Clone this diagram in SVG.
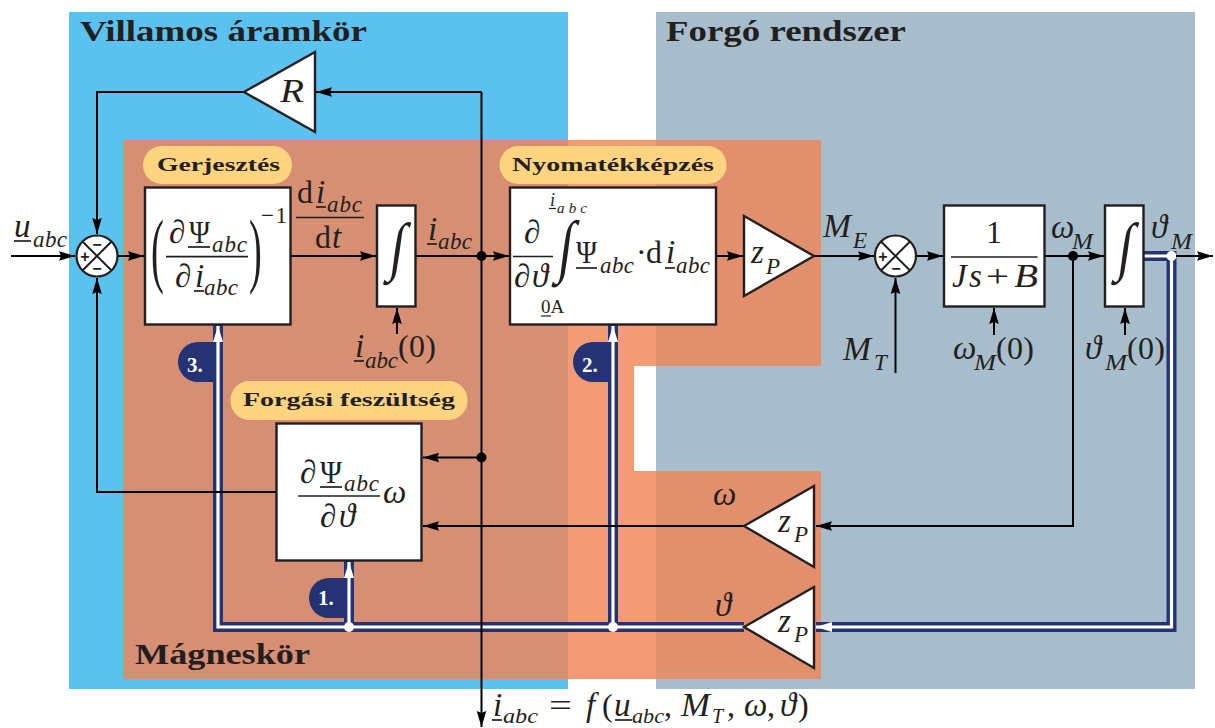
<svg xmlns="http://www.w3.org/2000/svg" width="1215" height="728" viewBox="0 0 1215 728">
<style>
text{font-family:"Liberation Serif","DejaVu Serif",serif;fill:#231f20}
.h{font-weight:bold;font-size:29px}
.p{font-weight:bold;font-size:19px}
.m{font-style:italic;font-size:33px}
.r{font-size:32px}
.s{font-style:italic;font-size:23px}
.t{font-style:italic;font-size:18px}
.in{font-size:52px}
.box{fill:#fff;stroke:#231f20;stroke-width:2.4}
.bar{stroke:#231f20;stroke-width:1.7;fill:none}
.ln{stroke:#000;stroke-width:2;fill:none}
.arr{marker-end:url(#a)}
.nv{stroke:#253375;stroke-width:10;fill:none}
.wh{stroke:#fff;stroke-width:3.2;fill:none}
.pill{fill:#ffd480}
.bd{fill:#253375}
.bt{fill:#fff;font-weight:bold;font-size:21px}
.sg{font-family:"Liberation Sans",sans-serif;font-weight:bold;font-size:16px;text-anchor:middle;fill:#231f20}
</style>
<defs>
<marker id="a" markerUnits="userSpaceOnUse" markerWidth="17" markerHeight="12" refX="16" refY="6" orient="auto"><path d="M0,1.2 L16,6 L0,10.8 L2,6 z" fill="#000"/></marker>
<marker id="w" markerUnits="userSpaceOnUse" markerWidth="17" markerHeight="12" refX="16" refY="6" orient="auto"><path d="M0,1 L16,6 L0,11 z" fill="#fff"/></marker>
</defs>
<g id="regions">
<rect x="69" y="12" width="499" height="677" fill="#5bc2ef"/>
<rect x="656" y="12" width="539" height="677" fill="#a7bdcb"/>
<rect x="123" y="140" width="445" height="539" fill="#d68f72"/>
<path d="M568,140H656V366H634V679H568z" fill="#f39b75"/>
<path d="M634,471H656V679H634z" fill="#f39b75"/>
<path d="M656,140H821V366H656zM656,471H821V679H656z" fill="#e18f6d"/>
<text class="h" x="80" y="41" textLength="287" lengthAdjust="spacingAndGlyphs">Villamos áramkör</text>
<text class="h" x="666" y="41" textLength="240" lengthAdjust="spacingAndGlyphs">Forgó rendszer</text>
<text class="h" x="135" y="664" textLength="175" lengthAdjust="spacingAndGlyphs">Mágneskör</text>
</g>
<g id="connectors">
<path class="nv" d="M218,325V627H744M349,561V627M613,325V627M1144,256H1171.5V627H816"/>
<path class="wh" d="M218,342V627H744M349,578V627M613,342V627M1144,256H1171.5V627H830"/>
<path class="wh" style="marker-end:url(#w)" d="M218,342V326"/>
<path class="wh" style="marker-end:url(#w)" d="M613,342V326"/>
<path class="wh" style="marker-end:url(#w)" d="M349,578V562"/>
<path class="wh" style="marker-end:url(#w)" d="M832,627H816"/>
<circle cx="349" cy="627" r="5" fill="#fff"/><circle cx="613" cy="627" r="5" fill="#fff"/><circle cx="1171.5" cy="256" r="5" fill="#fff"/>
<path class="ln arr" d="M11,256H75"/>
<path class="ln arr" d="M117,256H144"/>
<path class="ln arr" d="M290,256H376"/>
<path class="ln arr" d="M415,256H509"/>
<path class="ln arr" d="M481.5,92V727"/>
<path class="ln arr" d="M481.5,92H316"/>
<path class="ln arr" d="M244,92H97V234"/>
<path class="ln arr" d="M276,492H97V278"/>
<path class="ln arr" d="M481.5,457.5H423"/>
<path class="ln arr" d="M744,526H423"/>
<path class="ln arr" d="M1073,256V526H816"/>
<path class="ln arr" d="M716,256H743"/>
<path class="ln arr" d="M814,256H874"/>
<path class="ln arr" d="M916,256H943"/>
<path class="ln arr" d="M1044,256H1104"/>
<path class="ln arr" d="M1176,256H1213"/>
<path class="ln arr" d="M895.5,373V278"/>
<path class="ln arr" d="M994,335V308"/>
<path class="ln arr" d="M1125,335V308"/>
<path class="ln arr" d="M397,334V308"/>
<circle cx="481.5" cy="256" r="5" fill="#000"/><circle cx="481.5" cy="457.5" r="5" fill="#000"/><circle cx="1073" cy="256" r="5" fill="#000"/>
</g>
<g id="sum1"><circle cx="97" cy="256" r="20.5" fill="#fff" stroke="#231f20" stroke-width="2.2"/><path class="bar" style="stroke-width:2" d="M82.5,241.5L111.5,270.5M82.5,270.5L111.5,241.5"/><text class="sg" x="85" y="262">+</text><text class="sg" x="97" y="250">−</text><text class="sg" x="97" y="274">−</text></g>
<g id="sum2"><circle cx="895.5" cy="256" r="20.5" fill="#fff" stroke="#231f20" stroke-width="2.2"/><path class="bar" style="stroke-width:2" d="M881,241.5L910,270.5M881,270.5L910,241.5"/><text class="sg" x="883" y="262">+</text><text class="sg" x="896" y="274">−</text></g>
<g id="gain-r"><path class="box" d="M244,92L315,52V132z"/><text class="m" x="280" y="102" textLength="24" lengthAdjust="spacingAndGlyphs">R</text></g>
<g id="gerjesztes">
<rect class="pill" x="143" y="146" width="149" height="38" rx="19"/>
<text class="p" x="157" y="171" textLength="123" lengthAdjust="spacingAndGlyphs">Gerjesztés</text>
<rect class="box" x="145" y="187.5" width="145.5" height="137"/>
<text transform="translate(151,277) scale(.62,1.32)" style="font-size:62px">(</text>
<text transform="translate(249,277) scale(.62,1.32)" style="font-size:62px">)</text>
<text class="m" x="169" y="243">∂</text><text class="r" x="189" y="243" textLength="21" lengthAdjust="spacingAndGlyphs">Ψ</text><path class="bar" d="M188,247H210"/><text class="s" x="212" y="252" textLength="35">abc</text>
<path class="bar" d="M166,256.7H248"/>
<text class="m" x="175" y="287">∂</text><text class="m" x="195" y="287">i</text><path class="bar" d="M194,291H204"/><text class="s" x="204" y="295" textLength="34">abc</text>
<text class="s" x="261" y="223" style="font-style:normal" textLength="26">−1</text>
</g>
<g id="didt">
<text class="r" x="297" y="203">d</text><text class="m" x="316" y="203">i</text><path class="bar" d="M316,207H326"/><text class="s" x="327" y="212" textLength="35">abc</text>
<path class="bar" d="M296,217.5H364"/>
<text class="r" x="315" y="248">d</text><text class="m" x="332" y="248">t</text>
</g>
<g id="int1"><rect class="box" x="377" y="205.5" width="38.5" height="101"/><text class="in" transform="translate(388,268) scale(1,1.24) skewX(-10)">∫</text></g>
<g id="iabc-label"><text class="m" x="428" y="240">i</text><path class="bar" d="M427,244H437"/><text class="s" x="438" y="249" textLength="34">abc</text></g>
<g id="i0-label"><text class="m" x="355" y="357">i</text><path class="bar" d="M354,361H364"/><text class="s" x="365" y="368" textLength="33">abc</text><text class="r" x="398" y="357" textLength="38">(0)</text></g>
<g id="nyomatek">
<rect class="pill" x="499.5" y="146" width="227" height="38" rx="19"/>
<text class="p" x="512" y="171" textLength="202" lengthAdjust="spacingAndGlyphs">Nyomatékképzés</text>
<rect class="box" x="510" y="187.5" width="206" height="137"/>
<text class="m" x="524" y="243">∂</text><path class="bar" d="M513,256.5H553"/>
<text class="m" x="514" y="287">∂</text><text class="m" x="532" y="287">ϑ</text>
<text class="in" transform="translate(556.5,269) scale(1,1.33) skewX(-10)">∫</text>
<text class="t" x="550" y="206">i</text><path class="bar" style="stroke-width:1.2" d="M549,208.5H556"/><text class="t" x="557" y="213" textLength="30" style="font-size:15px">abc</text>
<text x="541" y="313" style="font-size:19px">0A</text><path class="bar" style="stroke-width:1.2" d="M541,316H551"/>
<text class="r" x="576" y="263" textLength="21" lengthAdjust="spacingAndGlyphs">Ψ</text><path class="bar" d="M576,268H597"/><text class="s" x="600" y="273" textLength="34">abc</text>
<text class="r" x="636" y="263">·</text><text class="r" x="646" y="263">d</text><text class="m" x="666" y="263">i</text><path class="bar" d="M665,268H675"/><text class="s" x="676" y="273" textLength="34">abc</text>
</g>
<g id="gain-zp1"><path class="box" d="M744,216L814,256L744,296z"/><text class="m" x="751" y="263">z</text><text class="s" x="766" y="274">P</text></g>
<g id="me-label"><text class="m" x="823" y="237" textLength="28" lengthAdjust="spacingAndGlyphs">M</text><text class="s" x="853" y="248">E</text></g>
<g id="mt-label"><text class="m" x="843" y="360" textLength="28" lengthAdjust="spacingAndGlyphs">M</text><text class="s" x="874" y="370">T</text></g>
<g id="mech"><rect class="box" x="944" y="205.5" width="100.5" height="101"/><text class="r" x="986" y="243">1</text><path class="bar" d="M951,257H1037.5"/><text class="m" x="952" y="287">J</text><text class="m" x="969" y="287">s</text><text class="r" x="986" y="287" textLength="23" lengthAdjust="spacingAndGlyphs">+</text><text class="m" x="1014" y="287" textLength="24" lengthAdjust="spacingAndGlyphs">B</text></g>
<g id="wm-label"><text class="m" x="1051" y="238" textLength="20">ω</text><text class="s" x="1072" y="249" textLength="21" lengthAdjust="spacingAndGlyphs">M</text></g>
<g id="int2"><rect class="box" x="1105" y="205.5" width="38.5" height="101"/><text class="in" transform="translate(1116,268) scale(1,1.24) skewX(-10)">∫</text></g>
<g id="tm-label"><text class="m" x="1151" y="238">ϑ</text><text class="s" x="1171" y="249" textLength="21" lengthAdjust="spacingAndGlyphs">M</text></g>
<g id="w0-label"><text class="m" x="953" y="359" textLength="20">ω</text><text class="s" x="974" y="370" textLength="22" lengthAdjust="spacingAndGlyphs">M</text><text class="r" x="996" y="359" textLength="38">(0)</text></g>
<g id="t0-label"><text class="m" x="1085" y="359">ϑ</text><text class="s" x="1105" y="370" textLength="22" lengthAdjust="spacingAndGlyphs">M</text><text class="r" x="1127" y="359" textLength="38">(0)</text></g>
<g id="forgasi">
<rect class="pill" x="230.5" y="381" width="237" height="39" rx="19"/>
<text class="p" x="243" y="406" textLength="212" lengthAdjust="spacingAndGlyphs">Forgási feszültség</text>
<rect class="box" x="276.5" y="423.5" width="145" height="137"/>
<text class="m" x="300" y="483">∂</text><text class="r" x="320" y="483" textLength="22" lengthAdjust="spacingAndGlyphs">Ψ</text><path class="bar" d="M320,487H342"/><text class="s" x="344" y="491" textLength="35">abc</text>
<path class="bar" d="M298,496H380"/>
<text class="m" x="320" y="527">∂</text><text class="m" x="339" y="527">ϑ</text>
<text class="m" x="383" y="503" textLength="20">ω</text>
</g>
<g id="gain-zp2"><path class="box" d="M744,526L814,486V567z"/><text class="m" x="778" y="532">z</text><text class="s" x="794" y="542">P</text></g>
<g id="gain-zp3"><path class="box" d="M744,627L814,587V668z"/><text class="m" x="778" y="632">z</text><text class="s" x="794" y="642">P</text></g>
<g id="omega-label"><text class="m" x="713" y="505" textLength="20">ω</text></g>
<g id="theta-label"><text class="m" x="715" y="616">ϑ</text></g>
<g id="badge3"><path class="bd" d="M213,342V382H198A20,20 0 0 1 198,342z"/><text class="bt" x="187" y="372">3.</text></g>
<g id="badge2"><path class="bd" d="M608,342V382H593A20,20 0 0 1 593,342z"/><text class="bt" x="582" y="372">2.</text></g>
<g id="badge1"><path class="bd" d="M344,578V618H329A20,20 0 0 1 329,578z"/><text class="bt" x="318" y="605">1.</text></g>
<g id="u-label"><text class="m" x="14" y="237">u</text><path class="bar" d="M14,241H31"/><text class="s" x="33" y="247" textLength="34">abc</text></g>
<g id="output-eq">
<text class="m" x="493" y="716">i</text><path class="bar" d="M492,720H502"/><text class="s" x="503" y="723" textLength="35" lengthAdjust="spacingAndGlyphs" style="font-size:20px">abc</text>
<text class="r" x="549" y="716" textLength="23" lengthAdjust="spacingAndGlyphs">=</text>
<text class="m" x="586" y="716">f</text><text class="r" x="602" y="716">(</text>
<text class="m" x="614" y="716">u</text><path class="bar" d="M615,720H632"/><text class="s" x="632" y="723" textLength="32" lengthAdjust="spacingAndGlyphs" style="font-size:20px">abc</text><text class="r" x="664" y="716">,</text>
<text class="m" x="681" y="716" textLength="29" lengthAdjust="spacingAndGlyphs">M</text><text class="s" x="712" y="723" style="font-size:20px">T</text><text class="r" x="727" y="716">,</text>
<text class="m" x="744" y="716" textLength="21">ω</text><text class="r" x="767" y="716">,</text>
<text class="m" x="780" y="716">ϑ</text><text class="r" x="798" y="716">)</text>
</g>
</svg>
